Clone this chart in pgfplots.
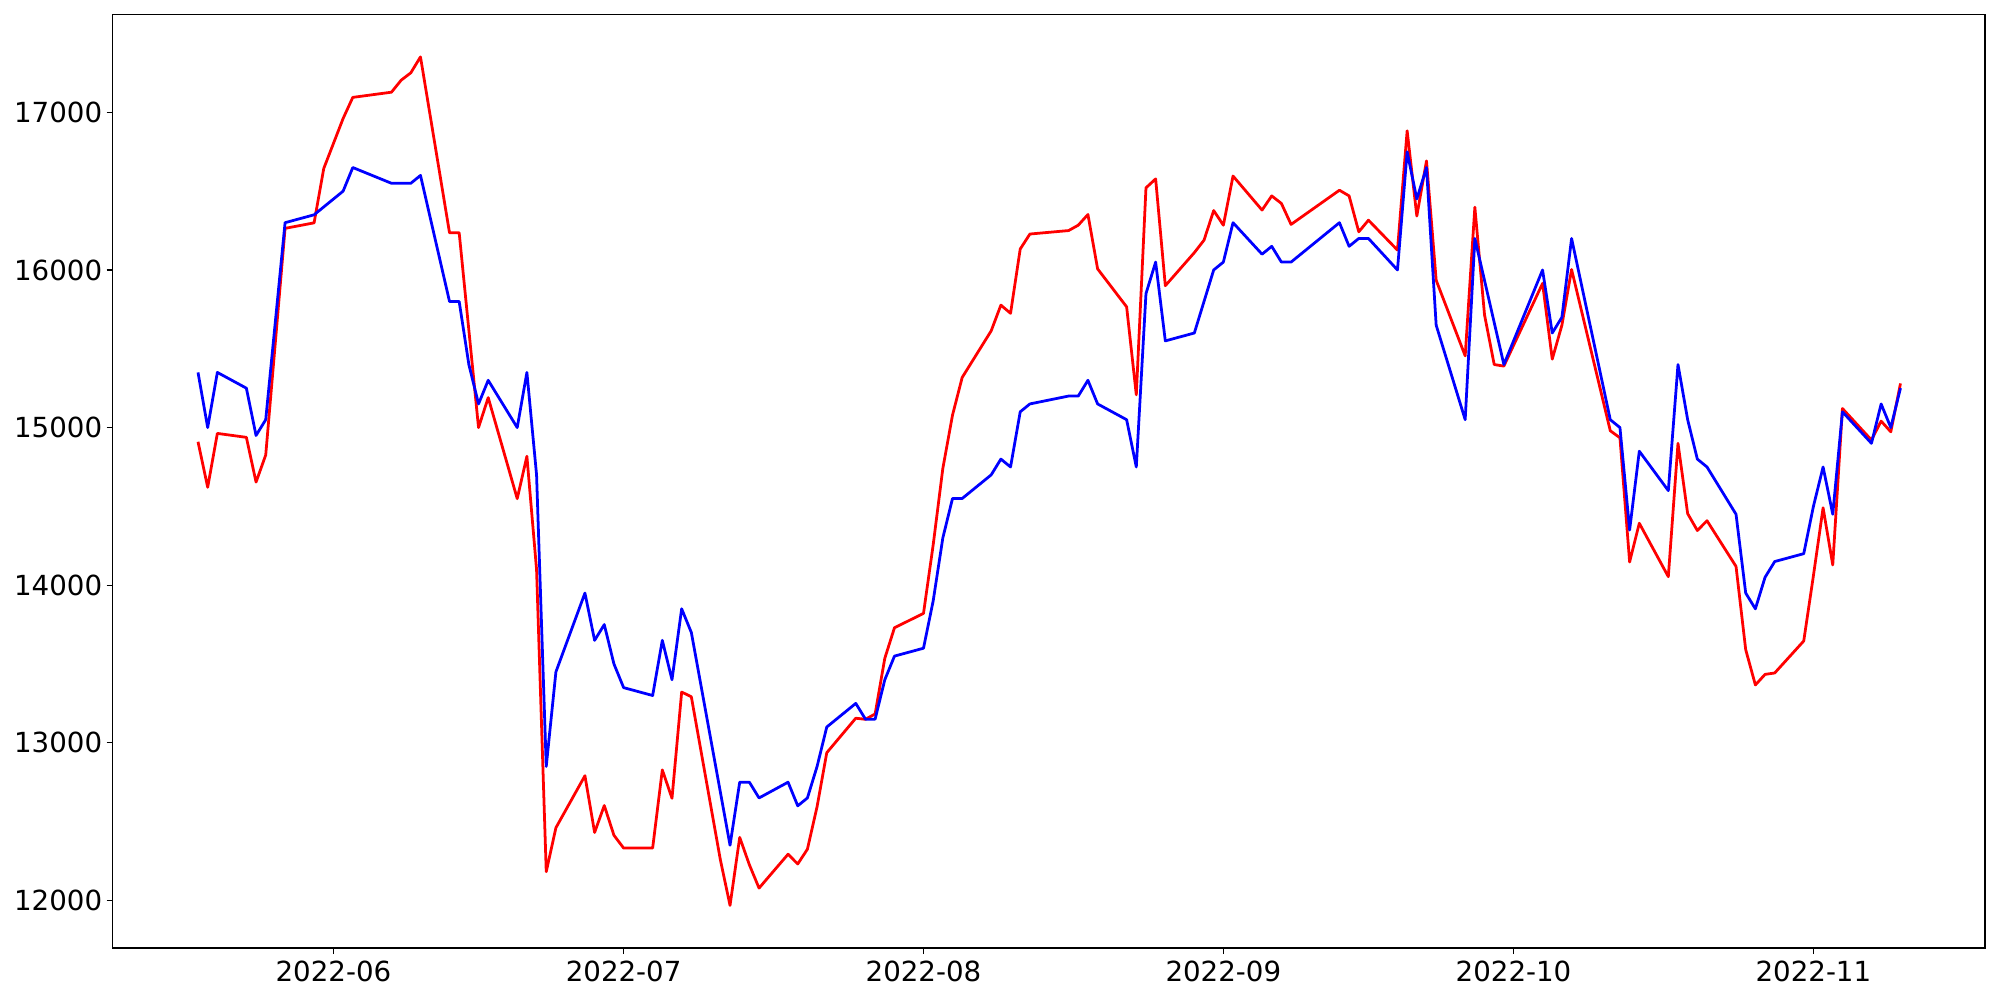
\documentclass[border=0pt]{standalone}
\usepackage{fontspec}
\setmainfont{DejaVu Sans}
\usepackage{pgfplots}
\pgfplotsset{compat=1.18}

% x = days since 2022-06-01
\pgfplotstableread{
d v
-14 14910
-13 14621
-12 14963
-9 14938
-8 14654
-7 14826
-5 16264
-2 16299
-1 16644
1 16961
2 17095
6 17128
7 17204
8 17251
9 17352
12 16236
13 16236
15 15000
16 15190
19 14549
20 14818
21 14099
22 12182
23 12461
26 12791
27 12431
28 12602
29 12413
30 12332
33 12332
34 12828
35 12648
36 13322
37 13292
40 12258
41 11968
42 12400
43 12226
44 12078
47 12293
48 12231
49 12325
50 12595
51 12937
54 13156
55 13149
56 13183
57 13536
58 13730
61 13821
62 14255
63 14741
64 15079
65 15318
68 15614
69 15777
70 15725
71 16133
72 16228
76 16250
77 16284
78 16352
79 16007
82 15766
83 15208
84 16521
85 16578
86 15900
89 16110
90 16189
91 16377
92 16284
93 16596
96 16380
97 16470
98 16422
99 16289
104 16506
105 16470
106 16242
107 16316
110 16126
111 16883
112 16342
113 16692
114 15935
117 15455
118 16398
119 15715
120 15400
121 15390
125 15915
126 15434
127 15650
128 16003
132 14980
133 14935
134 14147
135 14393
138 14054
139 14900
140 14454
141 14347
142 14409
145 14119
146 13591
147 13367
148 13434
149 13443
152 13646
153 14060
154 14491
155 14128
156 15121
159 14921
160 15041
161 14973
162 15280
}\predicted

\pgfplotstableread{
d v
-14 15350
-13 15000
-12 15350
-9 15250
-8 14950
-7 15050
-5 16300
-2 16350
1 16500
2 16650
6 16550
7 16550
8 16550
9 16600
12 15800
13 15800
14 15400
15 15150
16 15300
19 15000
20 15350
21 14700
22 12850
23 13450
26 13950
27 13650
28 13750
29 13500
30 13350
33 13300
34 13650
35 13400
36 13850
37 13700
41 12350
42 12750
43 12750
44 12650
47 12750
48 12600
49 12650
50 12850
51 13100
54 13250
55 13150
56 13150
57 13400
58 13550
61 13600
62 13900
63 14300
64 14550
65 14550
68 14700
69 14800
70 14750
71 15100
72 15150
76 15200
77 15200
78 15300
79 15150
82 15050
83 14750
84 15850
85 16050
86 15550
89 15600
91 16000
92 16050
93 16300
96 16100
97 16150
98 16050
99 16050
104 16300
105 16150
106 16200
107 16200
110 16000
111 16750
112 16450
113 16650
114 15650
117 15050
118 16200
121 15400
125 16000
126 15600
127 15700
128 16200
132 15050
133 15000
134 14350
135 14850
138 14600
139 15400
140 15050
141 14800
142 14750
145 14450
146 13950
147 13850
148 14050
149 14150
152 14200
153 14500
154 14750
155 14450
156 15100
159 14900
160 15150
161 15000
162 15250
}\actual

\begin{document}
\begin{tikzpicture}
\path[use as bounding box] (0,0) rectangle (20in,10in);
\begin{axis}[at={(1.126in,0.52in)}, anchor=south west,
  scale only axis, width=18.724in, height=9.335in,
  xmin=-22.83, xmax=170.74, ymin=11698, ymax=17621,
  xtick={0,30,61,92,122,153},
  xticklabels={2022-06,2022-07,2022-08,2022-09,2022-10,2022-11},
  ytick={12000,13000,14000,15000,16000,17000},
  scaled y ticks=false,
  yticklabel style={/pgf/number format/1000 sep={}},
  /pgf/number format/assume math mode=true,
  tick align=outside, tick pos=left,
  major tick length=0.06in,
  every tick/.style={black, line width=0.8pt},
  axis line style={black, line width=0.8pt},
  tick label style={font=\fontsize{20}{24}\selectfont, inner sep=0pt},
  xticklabel style={yshift=-4.5pt},
  yticklabel style={xshift=-3pt},
  clip=true]
\addplot[red, line width=2pt, line join=round] table[x=d, y=v] {\predicted};
\addplot[blue, line width=2pt, line join=round] table[x=d, y=v] {\actual};
\end{axis}
\end{tikzpicture}
\end{document}
